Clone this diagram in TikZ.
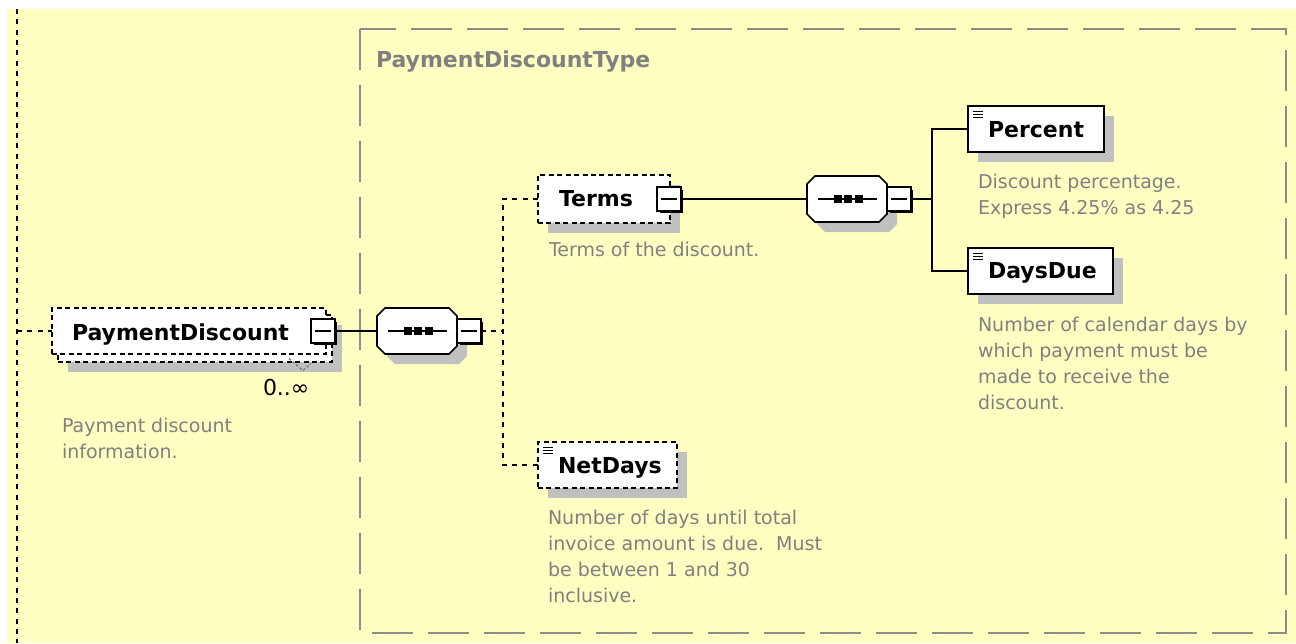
\documentclass[tikz,border=0pt]{standalone}
\usepackage{fontspec}
\setmainfont{DejaVu Sans}
\usetikzlibrary{calc,shadows}
\frenchspacing

\definecolor{bgyellow}{RGB}{255,255,194}
\definecolor{shadowgray}{RGB}{192,192,192}
\definecolor{notegray}{RGB}{128,128,128}
\definecolor{framegray}{RGB}{140,140,140}

% octagonal sequence compositor drawn round an invisible node (#1), shifted by #2
\newcommand{\seqoutline}[3]{%
  \path[#3] ($(#1.west)+(#2)+(0,-15)$) -- ($(#1.north west)+(#2)+(8,0)$)
    -- ($(#1.north east)+(#2)+(-8,0)$) -- ($(#1.east)+(#2)+(0,-15)$)
    -- ($(#1.east)+(#2)+(0,15)$) -- ($(#1.south east)+(#2)+(-8,0)$)
    -- ($(#1.south west)+(#2)+(8,0)$) -- ($(#1.west)+(#2)+(0,15)$) -- cycle;}
% the line with three dots inside a sequence compositor
\newcommand{\seqdots}[1]{%
  \draw[line width=1.2pt] ($(#1.west)+(11,0)$) -- ($(#1.east)+(-10,0)$);
  \foreach \dx in {-9.5,1,11.5}{%
    \fill ($(#1.center)+(\dx,0)+(-4,-4)$) rectangle ($(#1.center)+(\dx,0)+(4,4)$);}}
% minus sign in a collapse box
\newcommand{\minussign}[1]{%
  \draw[line width=1.2pt] ($(#1.west)+(4,0)$) -- ($(#1.east)+(-4,0)$);}
% simple-content icon in the top left corner of an element box
\newcommand{\simpleicon}[1]{%
  \foreach \dy in {5,8,11}{%
    \draw[line width=0.7pt] ($(#1.north west)+(5,\dy)$) -- ($(#1.north west)+(15,\dy)$);}}

\begin{document}
\begin{tikzpicture}[x=0.75pt,y=-0.75pt,
  every node/.style={inner sep=0pt, outer sep=0pt},
  conn/.style={line width=1.5pt},
  optconn/.style={line width=1.5pt, dash pattern=on 3.75pt off 4pt},
  elembox/.style={rectangle, draw, fill=white, line width=1.5pt},
  optbox/.style={elembox, dash pattern=on 3.75pt off 2.6pt},
  boxshadow/.style={drop shadow={shadow xshift=7.5pt, shadow yshift=-7.5pt, fill=shadowgray, opacity=1}},
  minusbox/.style={rectangle, draw, fill=white, line width=1.4pt, minimum size=17.5pt,
    drop shadow={shadow xshift=1.8pt, shadow yshift=-1.8pt, fill=black, opacity=1}},
  seqnode/.style={rectangle, minimum width=60pt, minimum height=34.5pt},
  elemname/.style={font=\bfseries\fontsize{16.5}{19}\selectfont, anchor=base west},
  note/.style={font=\fontsize{14.25}{19.5}\selectfont, text=notegray, align=left, anchor=north west},
]
\useasboundingbox (0,0) rectangle (1296,643);
\fill[white] (0,0) rectangle (1296,643);
\fill[bgyellow] (7,9) rectangle (1296,643);

% complex type frame
\draw[framegray, line width=1.5pt, dash pattern=on 30.75pt off 11.25pt] (360,29) rectangle (1286,633);
\node[elemname, text=notegray] (typename) at (376,67) {PaymentDiscountType};

% parent rail
\coordinate (railtop) at (17,9);
\coordinate (railbot) at (17,643);
\draw[optconn, line width=1.8pt] (railtop) -- (railbot);

% PaymentDiscount (repeated, optional)
\node[optbox, boxshadow, minimum width=205.5pt, minimum height=35.25pt] (pdback) at (195,338) {};
\node[optbox, minimum width=205.5pt, minimum height=34.5pt] (pd) at (189,331) {};
\node[elemname] (pdname) at (72,340) {PaymentDiscount};
\node[minusbox] (pdm) at (323,331) {};
\minussign{pdm}
\coordinate (mark1) at ($(pdback.south east)+(-43,-3)$);
\coordinate (mark2) at ($(pdback.south east)+(-29,9)$);
\coordinate (mark3) at ($(pdback.south east)+(-21,2)$);
\draw[line width=0.9pt, black!55, dash pattern=on 2pt off 1.5pt] (mark1) -- (mark2) -- (mark3);
\node[font=\fontsize{16.5}{19}\selectfont, anchor=base west] (pdocc) at (263,395) {0..∞};
\node[note] (pdnote) at (62,418) {Payment discount\\information.};
\draw[optconn] (pd.west -| railtop) -- (pd.west);

% first sequence
\node[seqnode] (s1) at (417,331) {};
\seqoutline{s1}{10,10}{fill=shadowgray}
\seqoutline{s1}{0,0}{draw, fill=white, line width=1.2pt}
\seqdots{s1}
\node[minusbox] (s1m) at (469,331) {};
\minussign{s1m}
\draw[conn] (pdm.east) -- (s1.west);
\coordinate (fork1) at (503,331);
\draw[optconn] (s1m.east) -- (fork1);

% Terms
\node[optbox, boxshadow, minimum width=99pt, minimum height=36pt] (terms) at (604,199) {};
\node[elemname] (termsname) at (559,206) {Terms};
\node[minusbox] (termsm) at (669,199) {};
\minussign{termsm}
\node[note] (termsnote) at (549,242) {Terms of the discount.};

% NetDays
\node[optbox, boxshadow, minimum width=104.25pt, minimum height=34.5pt] (netdays) at (607.5,465) {};
\simpleicon{netdays}
\node[elemname] (netdaysname) at (558,473) {NetDays};
\node[note] (netdaysnote) at (548,510) {Number of days until total\\invoice amount is due.~~Must\\be between 1 and 30\\inclusive.};

\draw[optconn] (terms.west) -- (terms.west -| fork1) -- (netdays.west -| fork1) -- (netdays.west);

% second sequence
\node[seqnode] (s2) at (847,199) {};
\seqoutline{s2}{10,10}{fill=shadowgray}
\seqoutline{s2}{0,0}{draw, fill=white, line width=1.2pt}
\seqdots{s2}
\node[minusbox] (s2m) at (899,199) {};
\minussign{s2m}
\draw[conn] (termsm.east) -- (s2.west);
\coordinate (fork2) at (932,199);
\draw[conn] (s2m.east) -- (fork2);

% Percent
\node[elembox, boxshadow, minimum width=102pt, minimum height=34.5pt] (percent) at (1036,129) {};
\simpleicon{percent}
\node[elemname] (percentname) at (988,137) {Percent};
\node[note] (percentnote) at (978,174) {Discount percentage.\\Express 4.25\% as 4.25};

% DaysDue
\node[elembox, boxshadow, minimum width=108.75pt, minimum height=34.5pt] (daysdue) at (1040.5,271) {};
\simpleicon{daysdue}
\node[elemname] (daysduename) at (988,278) {DaysDue};
\node[note] (daysduenote) at (978,317) {Number of calendar days by\\which payment must be\\made to receive the\\discount.};

\draw[conn] (percent.west) -- (percent.west -| fork2) -- (daysdue.west -| fork2) -- (daysdue.west);
\end{tikzpicture}
\end{document}
